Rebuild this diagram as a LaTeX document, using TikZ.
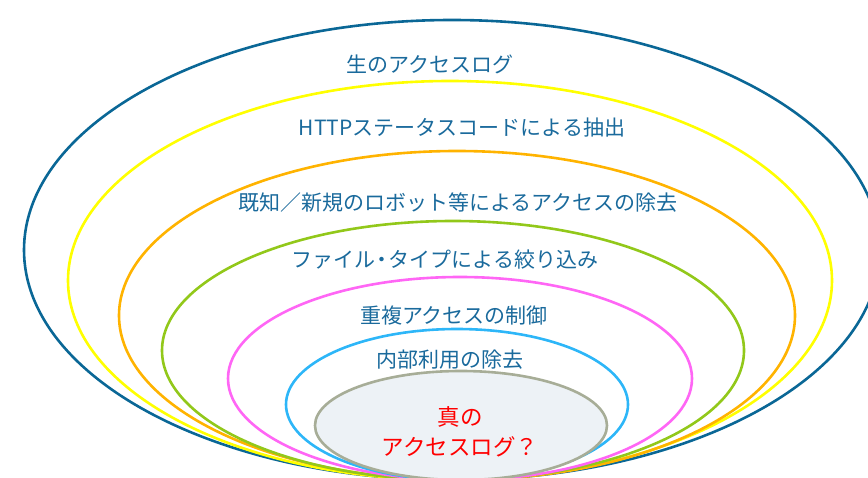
\documentclass[tikz,border=0pt]{standalone}
\usepackage{fontspec}
\setmainfont{Noto Sans CJK JP}
\definecolor{cblue}{HTML}{0A6796}
\definecolor{cyel}{HTML}{FFFF00}
\definecolor{corg}{HTML}{FFB300}
\definecolor{cgrn}{HTML}{92C81A}
\definecolor{cpnk}{HTML}{FF66F5}
\definecolor{ccyn}{HTML}{2DB6F8}
\definecolor{cgry}{HTML}{A7AD97}
\definecolor{cfill}{HTML}{EDF2F6}
\definecolor{ctxt}{HTML}{1A6A9C}
\definecolor{cred}{HTML}{FF0000}
\begin{document}
\begin{tikzpicture}[x=1pt,y=-1pt,
  ring/.style={line width=2.6pt},
  lab/.style={text=ctxt,font=\fontsize{21}{24}\selectfont,inner sep=0pt},
  redlab/.style={text=cred,font=\fontsize{22.5}{26}\selectfont,inner sep=0pt}]
\useasboundingbox (0,0) rectangle (868,478);
\begin{scope}
\clip (0,0) rectangle (868,478);
\draw[ring,cblue] (452,250) ellipse [x radius=428,y radius=230];
\draw[ring,cyel] (450,280.5) ellipse [x radius=382,y radius=199.5];
\draw[ring,corg] (457,315.5) ellipse [x radius=338,y radius=164.5];
\draw[ring,cgrn] (453,350.5) ellipse [x radius=291,y radius=129.5];
\draw[ring,cpnk] (460,378.5) ellipse [x radius=232,y radius=101.5];
\draw[ring,ccyn] (457,404.5) ellipse [x radius=171,y radius=75.5];
\draw[ring,cgry,fill=cfill] (461,425.5) ellipse [x radius=146,y radius=54.5];
\end{scope}
\node[lab] (t1) at (430,64) {生のアクセスログ};
\node[lab] (t2) at (462,128) {HTTPステータスコードによる抽出};
\node[lab] (t3) at (458,203) {既知／新規のロボット等によるアクセスの除去};
\node[lab] (t4) at (445,260) {ファイル\kern-4pt・\kern-4ptタイプによる絞り込み};
\node[lab] (t5) at (454,316) {重複アクセスの制御};
\node[lab] (t6) at (450,360) {内部利用の除去};
\node[redlab] (t7) at (460,417) {真の};
\node[redlab] (t8) at (460,447) {アクセスログ？};
\end{tikzpicture}
\end{document}
